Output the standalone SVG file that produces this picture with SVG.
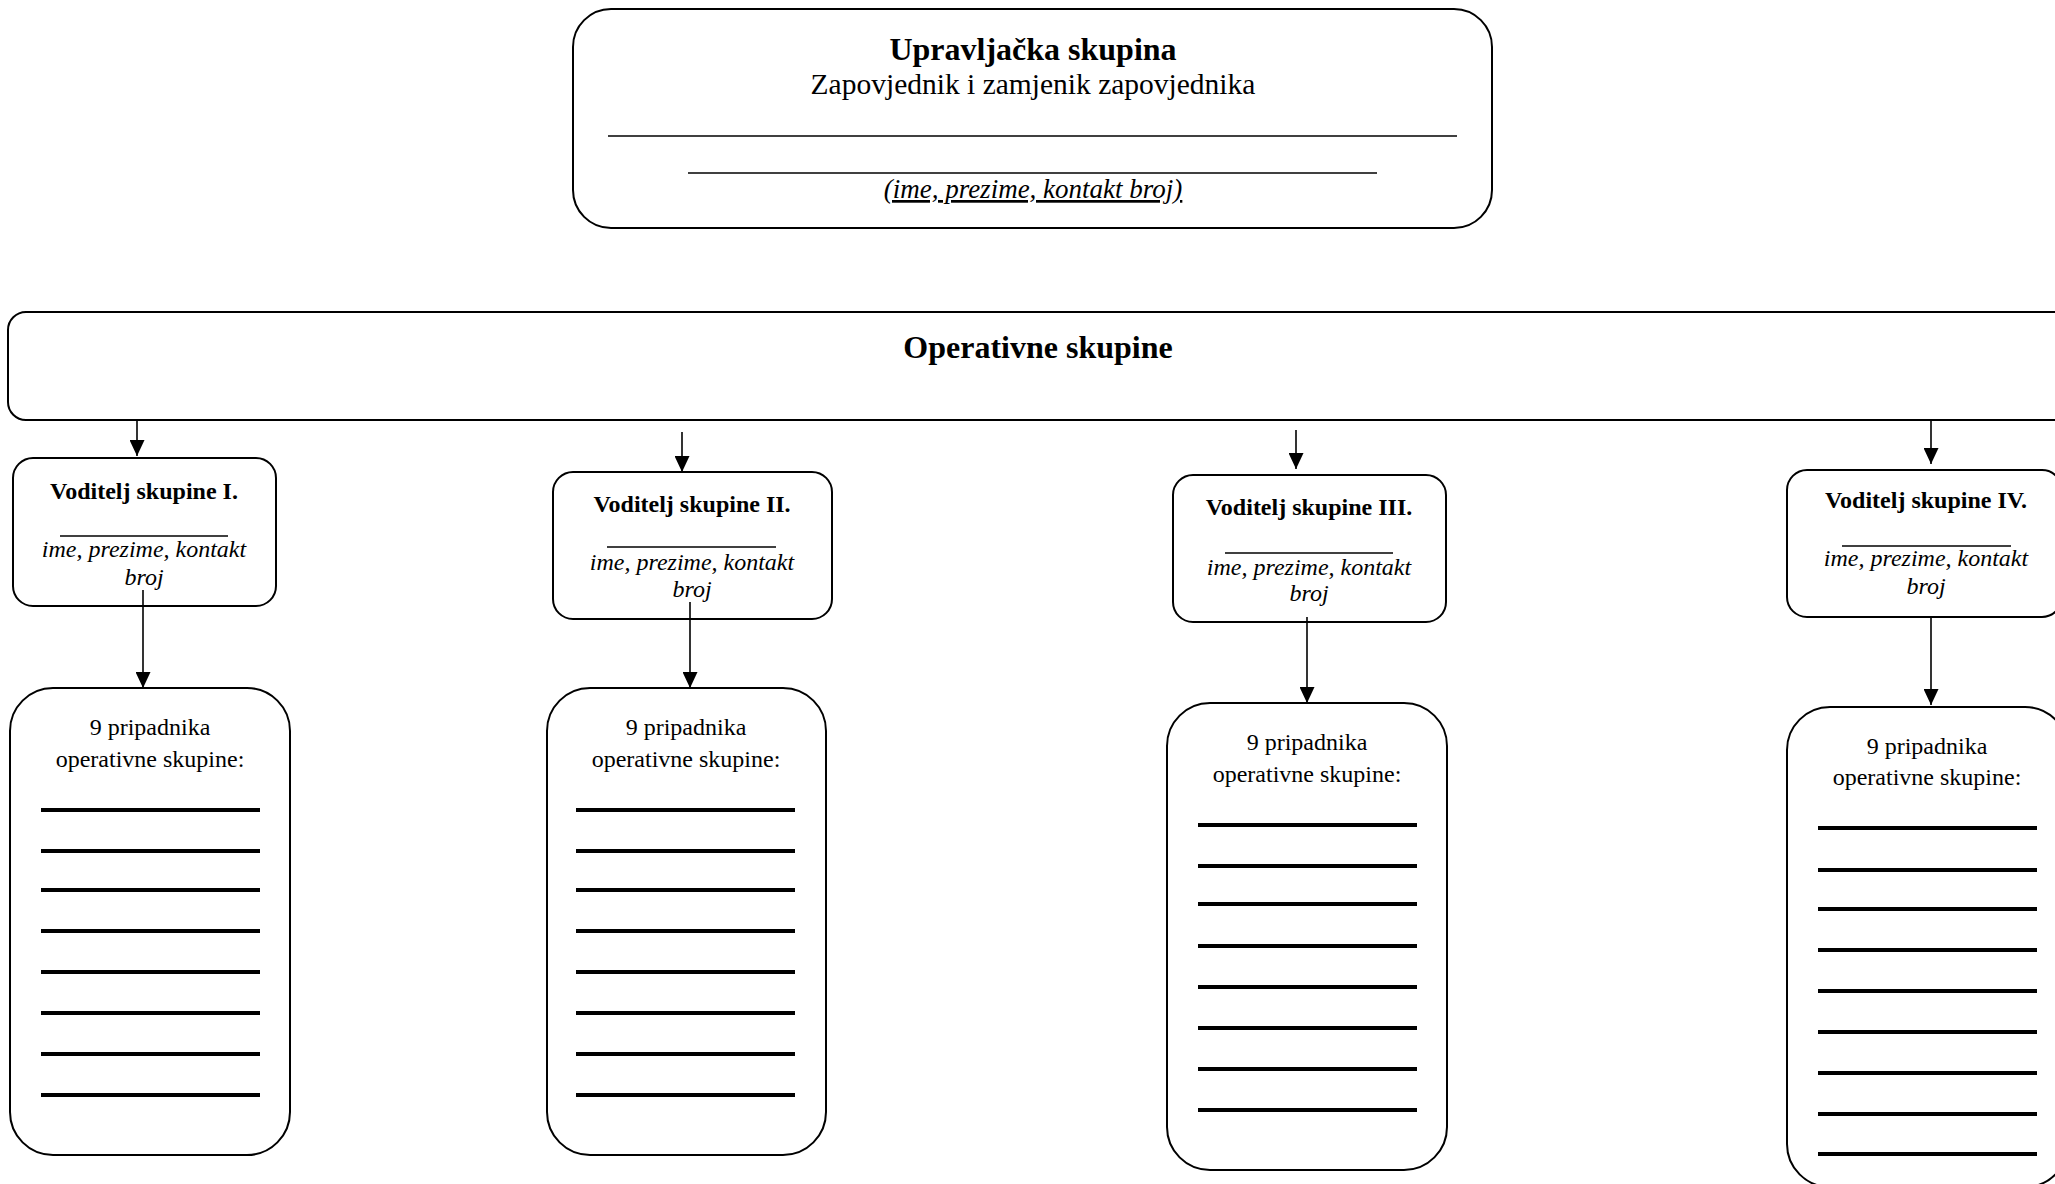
<svg xmlns="http://www.w3.org/2000/svg" width="2055" height="1184" viewBox="0 0 2055 1184">
<defs>
<marker id="arr" viewBox="0 0 16 15" refX="16" refY="7.5" markerWidth="16" markerHeight="15" markerUnits="userSpaceOnUse" orient="auto">
<path d="M0,0 L16,7.5 L0,15 z" fill="#000"/>
</marker>
<style>
text{font-family:"Liberation Serif","Times New Roman",serif;fill:#000;text-anchor:middle}
.box{fill:#fff;stroke:#000;stroke-width:2}
.h1{font-size:32px;font-weight:bold}
.sub{font-size:29.5px}
.it{font-size:27px;font-style:italic;text-decoration:underline}
.vt{font-size:24px;font-weight:bold}
.vi{font-size:24px;font-style:italic}
.mt{font-size:24px}
.thin{stroke:#000;stroke-width:1.3}
.thick{stroke:#000;stroke-width:4}
.conn{stroke:#000;stroke-width:1.6;fill:none;marker-end:url(#arr)}
</style>
</defs>
<rect width="2055" height="1184" fill="#fff"/>

<g id="upravljacka">
<rect class="box" x="573" y="9" width="919" height="219" rx="38"/>
<text class="h1" x="1033" y="60">Upravljačka skupina</text>
<text class="sub" x="1033" y="94">Zapovjednik i zamjenik zapovjednika</text>
<line class="thin" x1="608" y1="136" x2="1457" y2="136"/>
<line class="thin" x1="688" y1="173" x2="1377" y2="173"/>
<text class="it" x="1033" y="198">(ime, prezime, kontakt broj)</text>
</g>

<g id="operativne">
<rect class="box" x="8" y="312" width="2080" height="108" rx="18"/>
<text class="h1" x="1038" y="358">Operativne skupine</text>
</g>

<g id="voditelj1">
<rect class="box" x="13" y="458" width="263" height="148" rx="20"/>
<text class="vt" x="144" y="499">Voditelj skupine I.</text>
<line class="thin" x1="60" y1="536" x2="228" y2="536"/>
<text class="vi" x="144" y="557">ime, prezime, kontakt</text>
<text class="vi" x="144" y="585">broj</text>
</g>
<g id="voditelj2">
<rect class="box" x="553" y="472" width="279" height="147" rx="20"/>
<text class="vt" x="692" y="512">Voditelj skupine II.</text>
<line class="thin" x1="607" y1="547" x2="776" y2="547"/>
<text class="vi" x="692" y="570">ime, prezime, kontakt</text>
<text class="vi" x="692" y="597">broj</text>
</g>
<g id="voditelj3">
<rect class="box" x="1173" y="475" width="273" height="147" rx="20"/>
<text class="vt" x="1309" y="515">Voditelj skupine III.</text>
<line class="thin" x1="1225" y1="553" x2="1393" y2="553"/>
<text class="vi" x="1309" y="575">ime, prezime, kontakt</text>
<text class="vi" x="1309" y="601">broj</text>
</g>
<g id="voditelj4">
<rect class="box" x="1787" y="470" width="275" height="147" rx="20"/>
<text class="vt" x="1926" y="508">Voditelj skupine IV.</text>
<line class="thin" x1="1842" y1="546" x2="2011" y2="546"/>
<text class="vi" x="1926" y="566">ime, prezime, kontakt</text>
<text class="vi" x="1926" y="594">broj</text>
</g>

<g id="pripadnici1">
<rect class="box" x="10" y="688" width="280" height="467" rx="43"/>
<text class="mt" x="150" y="735">9 pripadnika</text>
<text class="mt" x="150" y="767">operativne skupine:</text>
<g class="thick">
<line x1="41" y1="810" x2="260" y2="810"/><line x1="41" y1="851" x2="260" y2="851"/>
<line x1="41" y1="890" x2="260" y2="890"/><line x1="41" y1="931" x2="260" y2="931"/>
<line x1="41" y1="972" x2="260" y2="972"/><line x1="41" y1="1013" x2="260" y2="1013"/>
<line x1="41" y1="1054" x2="260" y2="1054"/><line x1="41" y1="1095" x2="260" y2="1095"/>
</g>
</g>
<g id="pripadnici2">
<rect class="box" x="547" y="688" width="279" height="467" rx="43"/>
<text class="mt" x="686" y="735">9 pripadnika</text>
<text class="mt" x="686" y="767">operativne skupine:</text>
<g class="thick">
<line x1="576" y1="810" x2="795" y2="810"/><line x1="576" y1="851" x2="795" y2="851"/>
<line x1="576" y1="890" x2="795" y2="890"/><line x1="576" y1="931" x2="795" y2="931"/>
<line x1="576" y1="972" x2="795" y2="972"/><line x1="576" y1="1013" x2="795" y2="1013"/>
<line x1="576" y1="1054" x2="795" y2="1054"/><line x1="576" y1="1095" x2="795" y2="1095"/>
</g>
</g>
<g id="pripadnici3">
<rect class="box" x="1167" y="703" width="280" height="467" rx="43"/>
<text class="mt" x="1307" y="750">9 pripadnika</text>
<text class="mt" x="1307" y="782">operativne skupine:</text>
<g class="thick">
<line x1="1198" y1="825" x2="1417" y2="825"/><line x1="1198" y1="866" x2="1417" y2="866"/>
<line x1="1198" y1="904" x2="1417" y2="904"/><line x1="1198" y1="946" x2="1417" y2="946"/>
<line x1="1198" y1="987" x2="1417" y2="987"/><line x1="1198" y1="1028" x2="1417" y2="1028"/>
<line x1="1198" y1="1069" x2="1417" y2="1069"/><line x1="1198" y1="1110" x2="1417" y2="1110"/>
</g>
</g>
<g id="pripadnici4">
<rect class="box" x="1787" y="707" width="281" height="480" rx="43"/>
<text class="mt" x="1927" y="754">9 pripadnika</text>
<text class="mt" x="1927" y="785">operativne skupine:</text>
<g class="thick">
<line x1="1818" y1="828" x2="2037" y2="828"/><line x1="1818" y1="870" x2="2037" y2="870"/>
<line x1="1818" y1="909" x2="2037" y2="909"/><line x1="1818" y1="950" x2="2037" y2="950"/>
<line x1="1818" y1="991" x2="2037" y2="991"/><line x1="1818" y1="1032" x2="2037" y2="1032"/>
<line x1="1818" y1="1073" x2="2037" y2="1073"/><line x1="1818" y1="1114" x2="2037" y2="1114"/>
<line x1="1818" y1="1154" x2="2037" y2="1154"/>
</g>
</g>

<g id="connectors">
<line class="conn" x1="137" y1="420" x2="137" y2="456"/>
<line class="conn" x1="682" y1="432" x2="682" y2="472"/>
<line class="conn" x1="1296" y1="430" x2="1296" y2="469"/>
<line class="conn" x1="1931" y1="420" x2="1931" y2="464"/>
<line class="conn" x1="143" y1="590" x2="143" y2="688"/>
<line class="conn" x1="690" y1="602" x2="690" y2="688"/>
<line class="conn" x1="1307" y1="617" x2="1307" y2="703"/>
<line class="conn" x1="1931" y1="617" x2="1931" y2="705"/>
</g>
</svg>
